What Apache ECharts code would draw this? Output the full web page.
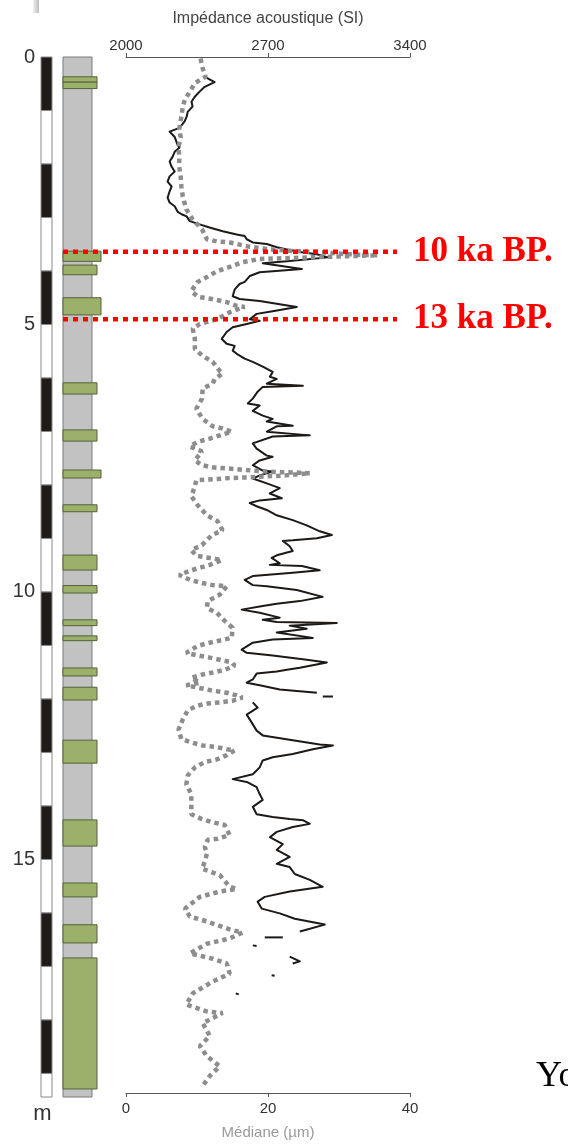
<!DOCTYPE html>
<html>
<head>
<meta charset="utf-8">
<script src="https://cdn.jsdelivr.net/npm/echarts@6/dist/echarts.min.js"></script>
<style>html,body{margin:0;padding:0;background:#fff}#c{width:568px;height:1145px}</style>
</head>
<body>
<div id="c"></div>
<script>
// ---------- DATA ----------
const coreLength = 19.44;                 // m
const depthTicks = [0, 5, 10, 15];
const impedanceTicks = [2000, 2700, 3400];
const medianTicks = [0, 20, 40];

// alternating metre scale bar (black / white)
const scaleBreaks = [0,1,2,3,4,5,6,7,8,9,10,11,12,13,14,15,16,17,18,19,19.44];

// lithology: green layers (top, base in m; class 1 = narrow, 2 = wide)
const layerTop  = [0.37,0.47,3.63,3.89,4.50,6.09,6.97,7.72,8.37,9.31,9.88,10.52,10.82,11.42,11.78,12.77,14.26,15.44,16.22,16.84];
const layerBase = [0.47,0.59,3.82,4.07,4.82,6.30,7.18,7.87,8.50,9.59,10.02,10.63,10.91,11.57,12.02,13.20,14.75,15.70,16.56,19.29];
const layerClass = [1,1,2,1,2,1,1,2,1,1,1,1,1,1,1,1,1,1,1,1];

// ages
const ageDepth = [3.64, 4.90];
const ageLabel = ['10 ka BP.', '13 ka BP.'];

// Médiane (µm) vs depth (m)
const medianDepth = [
 0.03,0.21,0.37,0.49,0.65,0.80,0.93,1.12,1.36,1.51,
 1.68,1.87,2.06,2.24,2.43,2.62,2.86,3.05,3.23,3.42,
 3.46,3.48,3.55,3.61,3.64,3.66,3.70,3.72,3.79,3.85,
 3.94,4.02,4.13,4.22,4.39,4.50,4.54,4.60,4.67,4.69,
 4.79,4.92,5.01,5.10,5.29,5.48,5.61,5.72,5.89,5.94,
 6.04,6.13,6.22,6.41,6.60,6.79,6.93,6.97,7.03,7.10,
 7.16,7.22,7.31,7.40,7.57,7.66,7.70,7.72,7.74,7.76,
 7.78,7.79,7.80,7.81,7.85,7.87,7.89,7.90,7.92,7.93,
 7.94,8.06,8.24,8.41,8.60,8.71,8.88,8.97,9.16,9.25,
 9.36,9.40,9.44,9.53,9.63,9.72,9.81,9.87,9.91,9.93,
 10.09,10.21,10.34,10.43,10.58,10.71,10.90,10.95,10.99,11.05,
 11.18,11.23,11.27,11.31,11.36,11.42,11.50,11.55,11.59,11.65,
 11.74,11.79,11.89,11.93,11.98,12.02,12.08,12.11,12.13,12.17,
 12.26,12.43,12.62,12.80,12.86,12.92,12.95,12.99,13.01,13.10,
 13.18,13.23,13.33,13.48,13.65,13.83,14.04,14.21,14.30,14.36,
 14.41,14.60,14.67,14.69,14.82,14.95,15.10,15.23,15.35,15.57,
 15.61,15.66,15.76,15.98,16.13,16.22,16.37,16.43,16.54,16.64,
 16.82,16.92,17.01,17.20,17.35,17.57,17.78,17.91,17.94,18.13,
 18.37,18.56,18.75,18.94,19.12,19.31];
const median = [
 10.5,10.8,11.2,9.7,9.0,8.3,8.0,7.8,7.5,7.7,
 7.4,7.5,7.5,7.7,7.8,8.0,8.5,9.4,10.7,11.4,
 12.8,14.6,17.0,20.2,23.5,27.3,31.1,35.5,18.8,16.4,
 14.6,12.8,11.4,10.1,9.2,10.1,12.1,14.2,15.6,16.7,
 14.6,12.8,10.4,9.4,9.7,9.7,10.8,12.2,13.2,13.6,
 12.5,12.2,10.8,10.7,9.9,10.8,12.2,13.6,14.9,13.2,
 11.8,10.1,9.0,10.7,9.7,10.7,12.2,14.2,16.0,17.8,
 19.8,22.1,24.5,25.9,22.6,19.8,17.0,14.6,12.8,11.4,
 9.9,9.7,9.2,10.1,11.4,12.9,13.6,12.1,10.7,9.2,
 9.9,11.8,13.5,11.8,9.2,7.5,9.0,10.7,12.2,14.2,
 13.2,11.5,11.4,12.8,13.9,15.0,14.9,13.2,11.8,10.1,
 8.5,10.1,11.8,13.2,14.9,15.3,13.9,12.2,10.7,9.2,
 10.4,8.5,12.2,14.2,15.6,16.4,15.0,13.2,11.5,10.1,
 8.7,8.0,7.4,7.8,9.2,10.8,12.8,14.2,15.3,14.2,
 12.8,11.1,9.7,8.7,8.5,9.2,9.2,9.2,10.7,12.2,
 13.9,14.6,12.9,11.5,11.1,11.4,11.1,10.7,13.2,14.6,
 15.6,13.2,10.4,8.3,9.0,11.4,14.6,16.4,14.6,11.4,
 9.0,12.2,14.2,14.6,12.2,9.4,8.5,11.4,13.6,10.8,
 11.8,10.4,11.4,13.2,11.8,10.8];

// Impédance acoustique (SI) vs depth (m); null = gap in the log
const impedanceDepth = [
 0.39,0.47,0.56,0.65,0.75,0.84,0.93,1.03,1.12,1.21,
 1.33,1.40,1.50,1.65,1.70,1.78,1.87,1.96,2.06,2.15,
 2.24,2.34,2.43,2.52,2.64,2.73,2.80,2.90,2.95,2.99,
 3.08,3.14,3.20,3.27,3.33,3.36,3.42,3.48,3.51,3.57,
 3.61,3.66,3.70,3.76,3.83,3.87,3.98,4.04,4.11,4.22,
 4.26,4.36,4.49,4.54,4.58,4.64,4.69,4.77,4.82,4.92,
 4.95,5.01,5.07,5.16,5.29,5.38,5.42,5.51,5.57,5.66,
 5.72,5.81,5.91,6.00,6.04,6.13,6.17,6.19,6.28,6.41,
 6.50,6.54,6.64,6.73,6.79,6.84,6.92,6.93,7.03,7.10,
 7.12,7.25,7.35,7.48,7.50,7.57,7.66,7.76,7.78,7.85,
 7.91,8.00,8.09,8.19,8.28,8.32,8.37,8.43,8.50,8.60,
 8.69,8.79,8.90,8.97,9.03,9.07,9.08,9.18,9.27,9.35,
 9.40,9.50,9.53,9.55,9.63,9.68,9.74,9.81,9.91,9.93,
 10.00,10.13,10.21,10.26,10.30,10.37,10.43,10.52,10.56,10.60,
 10.62,10.67,10.73,10.80,10.90,10.93,10.99,11.12,11.18,11.23,
 11.31,11.36,11.46,11.50,11.53,11.57,11.68,11.74,11.79,11.87,11.93,
 null, 12.00,12.00, null,
 12.11,12.21,12.34,12.49,12.64,12.73,12.82,12.90,12.92,12.99,
 13.08,13.14,13.20,13.33,13.46,13.55,13.61,13.70,13.83,13.94,
 14.07,14.21,14.26,14.30,14.32,14.39,14.45,14.54,14.64,14.77,
 14.88,15.01,15.14,15.20,15.33,15.44,15.57,15.66,15.76,15.85,
 15.98,16.07,16.17,16.28,16.41,
 null, 16.52,16.52, null, 16.67,16.68, null, 16.88,16.97,17.01,
 null, 17.23,17.24, null, 17.57,17.59];
const impedance = [
 2398,2437,2388,2363,2338,2323,2328,2304,2299,2289,
 2264,2215,2240,2254,2264,2240,2230,2215,2225,2240,
 2215,2205,2225,2215,2205,2215,2240,2254,2274,2299,
 2314,2363,2412,2477,2546,2585,2595,2625,2694,2743,
 2793,2857,2941,2995,2807,2674,2867,2659,2610,2585,
 2560,2536,2526,2560,2659,2758,2842,2723,2644,2610,
 2659,2595,2526,2496,2472,2496,2536,2526,2546,2585,
 2625,2674,2723,2709,2743,2694,2872,2674,2649,2625,
 2600,2659,2625,2674,2723,2694,2822,2743,2694,2906,
 2723,2625,2644,2694,2723,2659,2625,2674,2723,2659,
 2625,2694,2758,2709,2768,2659,2610,2644,2694,2743,
 2822,2891,2955,3015,2941,2822,2773,2807,2822,2743,
 2718,2758,2709,2867,2955,2822,2625,2585,2625,2694,
 2842,2970,2857,2743,2674,2570,2659,2758,2674,2743,
 3039,2807,2891,2743,2921,2723,2625,2570,2595,2723,
 2891,2990,2857,2793,2743,2644,2625,2595,2659,2758,2941,
 null, 2970,3020, null,
 2625,2649,2595,2620,2644,2674,2822,2955,3020,2921,
 2822,2723,2674,2659,2625,2526,2600,2644,2659,2674,
 2625,2644,2723,2807,2872,2906,2822,2743,2709,2773,
 2743,2807,2743,2807,2832,2906,2970,2807,2684,2649,
 2669,2758,2832,2980,2857,
 null, 2684,2773, null, 2625,2644, null, 2807,2857,2822,
 null, 2718,2733, null, 2541,2556];

// ---------- STYLE / BUILD ----------
const SANS = 'Liberation Sans';
const SERIF = 'Liberation Serif';
const GRID_TOP = 57, GRID_H = 1040;
const layerWidth = {1: 34, 2: 38};   // px of the lithology track
const columnWidth = 29;

function segments(depths, values) {
  const segs = []; let cur = [];
  for (let i = 0; i < depths.length; i++) {
    if (depths[i] == null || values[i] == null) { if (cur.length) segs.push(cur); cur = []; continue; }
    cur.push([values[i], depths[i]]);
  }
  if (cur.length) segs.push(cur);
  return segs;
}

const depthAxis = (gi, extra) => Object.assign({
  type: 'value', gridIndex: gi, inverse: true, min: 0, max: coreLength,
  axisLine: {show: false}, axisTick: {show: false}, axisLabel: {show: false}, splitLine: {show: false}
}, extra || {});
const hiddenX = (gi, max) => ({type: 'value', gridIndex: gi, min: 0, max: max, show: false});

const series = [];

// scale bar
const scaleData = [];
for (let i = 0; i < scaleBreaks.length - 1; i++) scaleData.push([scaleBreaks[i], scaleBreaks[i + 1], i % 2]);
series.push({
  type: 'custom', xAxisIndex: 2, yAxisIndex: 1, silent: true,
  encode: {y: [0, 1]},
  data: scaleData,
  renderItem: (p, api) => {
    const a = api.coord([0, api.value(0)]);
    const b = api.coord([1, api.value(1)]);
    return {type: 'rect', shape: {x: a[0], y: a[1], width: b[0] - a[0], height: b[1] - a[1]},
      style: {fill: api.value(2) === 0 ? '#1f1b18' : '#ffffff', stroke: '#8a8a8a', lineWidth: 1}};
  }
});

// lithology column (grey background)
series.push({
  type: 'custom', xAxisIndex: 3, yAxisIndex: 2, silent: true,
  encode: {y: [0, 1]},
  data: [[0, coreLength]],
  renderItem: (p, api) => {
    const a = api.coord([0, api.value(0)]);
    const b = api.coord([columnWidth, api.value(1)]);
    return {type: 'rect', shape: {x: a[0], y: a[1], width: b[0] - a[0], height: b[1] - a[1]},
      style: {fill: '#c2c2c2', stroke: '#7a7a7a', lineWidth: 1}};
  }
});
// green layers
series.push({
  type: 'custom', xAxisIndex: 3, yAxisIndex: 2, silent: true, z: 3,
  encode: {y: [0, 1]},
  data: layerTop.map((t, i) => [t, layerBase[i], layerClass[i]]),
  renderItem: (p, api) => {
    const a = api.coord([0, api.value(0)]);
    const b = api.coord([layerWidth[api.value(2)], api.value(1)]);
    return {type: 'rect', shape: {x: a[0], y: a[1], width: b[0] - a[0], height: b[1] - a[1]},
      style: {fill: '#9bb068', stroke: '#56613c', lineWidth: 1}};
  }
});

// impedance (black line)
segments(impedanceDepth, impedance).forEach(seg => series.push({
  type: 'line', xAxisIndex: 1, yAxisIndex: 0, data: seg, symbol: 'none', silent: true, z: 3,
  lineStyle: {color: '#1c1916', width: 2, join: 'round'}
}));
// median (grey dotted)
segments(medianDepth, median).forEach(seg => series.push({
  type: 'line', xAxisIndex: 0, yAxisIndex: 0, data: seg, symbol: 'none', silent: true, z: 4,
  lineStyle: {color: '#8d8d8d', width: 4.5, type: [4.5, 4], cap: 'butt'}
}));

// age markers
ageDepth.forEach((d, i) => series.push({
  type: 'line', xAxisIndex: 4, yAxisIndex: 3, data: [[0, d], [1, d]], symbol: 'none', silent: true, z: 10,
  lineStyle: {color: '#ff0000', width: 4.5, type: [5, 5], cap: 'butt'},
  endLabel: {show: true, formatter: ageLabel[i], color: '#ff0000', fontFamily: SERIF,
    fontWeight: 'bold', fontSize: 35, distance: 16}
}));

const plainNum = v => String(v);
const axisLineStyle = {show: true, onZero: false, lineStyle: {color: '#555', width: 1}};

const option = {
  animation: false,
  backgroundColor: '#fff',
  grid: [
    {left: 126, width: 284, top: GRID_TOP, height: GRID_H},
    {left: 41, width: 11, top: GRID_TOP, height: GRID_H},
    {left: 63, width: 38, top: GRID_TOP, height: GRID_H},
    {left: 63, width: 334, top: GRID_TOP, height: GRID_H}
  ],
  xAxis: [
    {type: 'value', gridIndex: 0, position: 'bottom', min: 0, max: 40,
      axisLine: axisLineStyle,
      axisTick: {show: true, length: 4, customValues: medianTicks, lineStyle: {color: '#555'}},
      splitLine: {show: false},
      axisLabel: {customValues: medianTicks, formatter: plainNum, color: '#333', fontSize: 15, fontFamily: SANS, margin: 8},
      name: 'Médiane (µm)', nameLocation: 'middle', nameGap: 32,
      nameTextStyle: {color: '#9a9a9a', fontSize: 15, fontFamily: SANS}},
    {type: 'value', gridIndex: 0, position: 'top', min: 2000, max: 3400,
      axisLine: axisLineStyle,
      axisTick: {show: true, length: 4, customValues: impedanceTicks, lineStyle: {color: '#555'}},
      splitLine: {show: false},
      axisLabel: {customValues: impedanceTicks, formatter: plainNum, color: '#333', fontSize: 15, fontFamily: SANS, margin: 4},
      name: 'Impédance acoustique (SI)', nameLocation: 'middle', nameGap: 30,
      nameTextStyle: {color: '#444', fontSize: 16, fontFamily: SANS}},
    hiddenX(1, 1),
    hiddenX(2, 38),
    hiddenX(3, 1)
  ],
  yAxis: [
    depthAxis(0),
    depthAxis(1, {axisLabel: {show: true, customValues: depthTicks, color: '#333', fontSize: 20,
      fontFamily: SANS, margin: 6}}),
    depthAxis(2),
    depthAxis(3)
  ],
  graphic: [
    {type: 'rect', shape: {x: 33, y: 0, width: 6, height: 13},
      style: {fill: new echarts.graphic.LinearGradient(0, 0, 1, 0, [{offset: 0, color: '#f2f2f2'}, {offset: 1, color: '#bdbdbd'}])}},
    {type: 'text', x: 42.5, y: 1114, style: {text: 'm', font: '22px "Liberation Sans"', fill: '#333',
      textAlign: 'center', textVerticalAlign: 'middle'}},
    {type: 'text', x: 536, y: 1077, style: {text: 'Yo', font: '36px "Liberation Serif"', fill: '#000',
      textAlign: 'left', textVerticalAlign: 'middle'}}
  ],
  series: series
};

const chart = echarts.init(document.getElementById('c'), null, {renderer: 'canvas'});
chart.setOption(option);
</script>
</body>
</html>
